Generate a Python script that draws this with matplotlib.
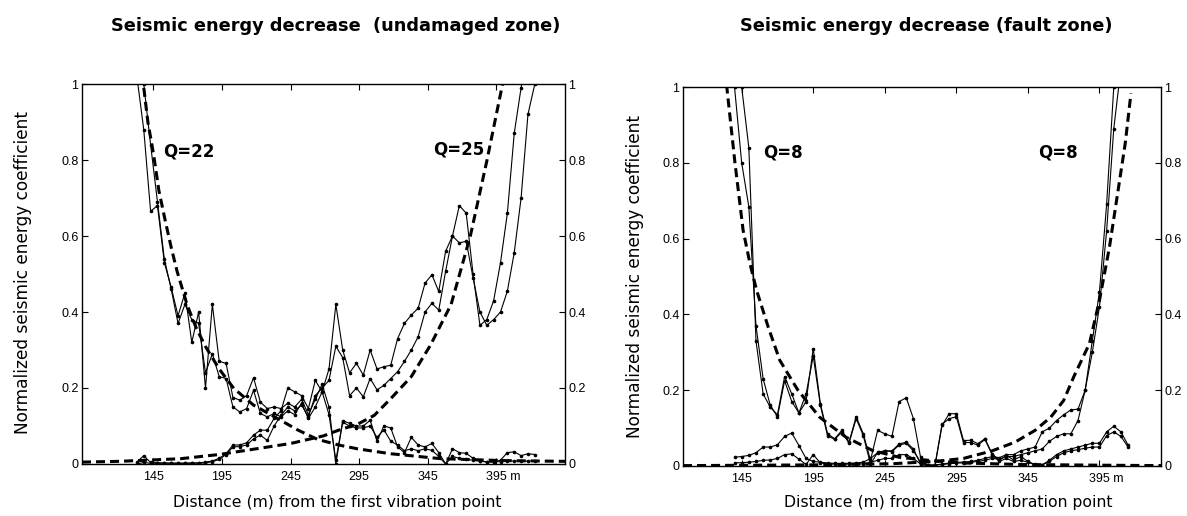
import matplotlib
matplotlib.use("Agg")
import matplotlib.pyplot as plt
from matplotlib.transforms import ScaledTranslation

plt.rcParams['lines.scale_dashes'] = False

# ------------------------------------------------------------------ data
x_left = list(range(133, 424, 5))          # 59 shot points (m)
left_dec_a = [1.02, 0.88, 0.665, 0.68, 0.53, 0.465, 0.39, 0.45, 0.32, 0.40,
              0.20, 0.42, 0.27, 0.265, 0.175, 0.168, 0.18, 0.227, 0.163, 0.146,
              0.15, 0.146, 0.16, 0.15, 0.17, 0.13, 0.17, 0.21, 0.15, 0.0,
              0.114, 0.107, 0.10, 0.10, 0.115, 0.06, 0.10, 0.095, 0.045, 0.03,
              0.07, 0.05, 0.045, 0.054, 0.03, 0.0, 0.04, 0.03, 0.028, 0.015,
              0.008, 0.005, 0.005, 0.01, 0.03, 0.032, 0.022, 0.027, 0.025]
left_dec_b = [1.3, 1.0, 0.84, 0.69, 0.54, 0.46, 0.37, 0.42, 0.38, 0.37,
              0.24, 0.29, 0.23, 0.225, 0.15, 0.137, 0.146, 0.194, 0.133, 0.124,
              0.133, 0.124, 0.14, 0.13, 0.16, 0.12, 0.15, 0.19, 0.13, 0.01,
              0.11, 0.10, 0.095, 0.095, 0.10, 0.07, 0.09, 0.06, 0.05, 0.035,
              0.04, 0.035, 0.04, 0.036, 0.02, 0.0, 0.02, 0.015, 0.012, 0.01,
              0.008, 0.006, 0.006, 0.006, 0.008, 0.008, 0.007, 0.008, 0.008]
left_inc_c = [0.005, 0.022, 0.004, 0.003, 0.003, 0.002, 0.002, 0.002, 0.003, 0.003,
              0.005, 0.008, 0.015, 0.027, 0.05, 0.05, 0.056, 0.076, 0.089, 0.089,
              0.12, 0.14, 0.20, 0.19, 0.18, 0.146, 0.22, 0.19, 0.25, 0.42,
              0.30, 0.24, 0.265, 0.234, 0.30, 0.25, 0.256, 0.26, 0.33, 0.37,
              0.392, 0.41, 0.476, 0.498, 0.454, 0.56, 0.60, 0.68, 0.66, 0.50,
              0.365, 0.38, 0.43, 0.53, 0.66, 0.87, 0.99, 1.1, 1.25]
left_inc_d = [0.0, 0.004, 0.002, 0.002, 0.002, 0.002, 0.002, 0.002, 0.002, 0.002,
              0.003, 0.006, 0.012, 0.025, 0.045, 0.046, 0.05, 0.066, 0.076, 0.062,
              0.10, 0.128, 0.15, 0.14, 0.155, 0.124, 0.18, 0.20, 0.22, 0.31,
              0.28, 0.18, 0.20, 0.177, 0.225, 0.195, 0.207, 0.225, 0.243, 0.27,
              0.30, 0.335, 0.40, 0.423, 0.405, 0.507, 0.60, 0.582, 0.586, 0.49,
              0.40, 0.365, 0.38, 0.40, 0.455, 0.556, 0.70, 0.92, 1.0]

left_fit_dec_x = [135, 137.7, 141, 145.2, 149, 153.8, 158, 162.3, 169.6, 176, 183,
                  193, 203.6, 218, 235.3, 250, 264.5, 280, 293.7, 318, 354.5, 400, 445]
left_fit_dec_y = [1.1, 1.0, 0.9, 0.814, 0.72, 0.638, 0.57, 0.507, 0.419, 0.36, 0.309,
                  0.25, 0.199, 0.155, 0.12, 0.09, 0.065, 0.05, 0.04, 0.027, 0.014, 0.009, 0.007]
left_fit_inc_x = [93, 120, 140, 165, 193, 220, 245, 269, 280, 294, 306, 318, 333,
                  347, 362, 376, 388, 399.5, 402]
left_fit_inc_y = [0.005, 0.007, 0.01, 0.014, 0.025, 0.04, 0.054, 0.074, 0.089, 0.105,
                  0.128, 0.172, 0.23, 0.313, 0.42, 0.6, 0.797, 1.0, 1.05]

x_right = list(range(140, 416, 5))         # 56 shot points (m)
right_dec_e = [1.25, 1.0, 0.84, 0.33, 0.19, 0.155, 0.135, 0.236, 0.19, 0.14,
               0.17, 0.31, 0.164, 0.085, 0.072, 0.094, 0.063, 0.13, 0.085, 0.015,
               0.094, 0.085, 0.078, 0.17, 0.18, 0.125, 0.023, 0.0, 0.0, 0.107,
               0.138, 0.138, 0.067, 0.068, 0.059, 0.072, 0.032, 0.015, 0.028, 0.016,
               0.025, 0.012, 0.004, 0.003, 0.015, 0.03, 0.04, 0.045, 0.05, 0.055,
               0.06, 0.06, 0.09, 0.105, 0.09, 0.055]
right_dec_f = [1.0, 0.80, 0.684, 0.37, 0.23, 0.16, 0.13, 0.225, 0.17, 0.14,
               0.19, 0.29, 0.16, 0.08, 0.07, 0.09, 0.06, 0.125, 0.08, 0.005,
               0.036, 0.04, 0.04, 0.058, 0.063, 0.045, 0.005, 0.0, 0.0, 0.11,
               0.125, 0.13, 0.062, 0.062, 0.055, 0.07, 0.03, 0.012, 0.02, 0.012,
               0.015, 0.01, 0.003, 0.003, 0.012, 0.025, 0.035, 0.04, 0.043, 0.047,
               0.05, 0.05, 0.08, 0.09, 0.078, 0.05]
right_inc_g = [0.023, 0.025, 0.028, 0.035, 0.05, 0.05, 0.056, 0.078, 0.087, 0.054,
               0.02, 0.012, 0.01, 0.008, 0.007, 0.007, 0.007, 0.008, 0.01, 0.02,
               0.035, 0.04, 0.038, 0.055, 0.06, 0.04, 0.01, 0.003, 0.003, 0.005,
               0.008, 0.01, 0.01, 0.012, 0.015, 0.02, 0.025, 0.022, 0.03, 0.03,
               0.04, 0.045, 0.05, 0.09, 0.10, 0.12, 0.135, 0.148, 0.15, 0.20,
               0.33, 0.46, 0.69, 1.0, 1.15, 1.3]
right_inc_h = [0.008, 0.009, 0.01, 0.012, 0.015, 0.016, 0.02, 0.03, 0.032, 0.018,
               0.004, 0.03, 0.008, 0.006, 0.005, 0.005, 0.005, 0.005, 0.006, 0.01,
               0.015, 0.02, 0.02, 0.03, 0.03, 0.02, 0.005, 0.002, 0.002, 0.004,
               0.006, 0.008, 0.008, 0.01, 0.012, 0.015, 0.02, 0.018, 0.025, 0.025,
               0.03, 0.035, 0.04, 0.045, 0.065, 0.078, 0.085, 0.085, 0.12, 0.20,
               0.30, 0.42, 0.62, 0.89, 1.05, 1.2]

right_fit_dec_x = [132, 134.6, 140.3, 146, 150.8, 155.4, 163.5, 171.6, 184.3, 199.4,
                   217.9, 236.4, 255, 278, 299, 340, 400, 440]
right_fit_dec_y = [1.08, 1.0, 0.80, 0.622, 0.534, 0.464, 0.367, 0.279, 0.2, 0.129,
                   0.076, 0.041, 0.023, 0.014, 0.008, 0.004, 0.002, 0.001]
right_fit_inc_x = [104, 150, 200, 250, 280, 300, 320, 336, 350, 361, 370, 377, 388,
                   395, 402, 407, 413, 417]
right_fit_inc_y = [0.001, 0.002, 0.003, 0.006, 0.012, 0.02, 0.04, 0.063, 0.094, 0.129,
                   0.173, 0.235, 0.323, 0.437, 0.578, 0.702, 0.851, 0.983]

x_ticks = [145, 195, 245, 295, 345, 395]
x_tick_labels = ['145', '195', '245', '295', '345', '395 m']
y_ticks = [0, 0.2, 0.4, 0.6, 0.8, 1.0]
y_tick_labels = ['0', '0.2', '0.4', '0.6', '0.8', '1']

titles = ['Seismic energy decrease  (undamaged zone)', 'Seismic energy decrease (fault zone)']
q_labels = [('Q=22', 'Q=25'), ('Q=8', 'Q=8')]
y_label = 'Normalized seismic energy coefficient'
x_label = 'Distance (m) from the first vibration point'

# ------------------------------------------------------------------ layout
W, H = 1187, 516
fig = plt.figure(figsize=(W / 100, H / 100), dpi=100)
fig.patch.set_facecolor('white')


def rect(l, r, t, b):
    return [l / W, 1 - b / H, (r - l) / W, (b - t) / H]


axL = fig.add_axes(rect(82, 565, 84, 464))
axR = fig.add_axes(rect(683, 1161, 87, 466))

TICKFONT = 'Liberation Sans'
LABFONT = 'DejaVu Sans'
TICKSIZE = 9

solid_kw = dict(color='black', lw=0.8, marker='.', ms=3.2, mec='black', mfc='black')
dash_kw = dict(color='black', lw=2.2, dashes=(6.5, 3.6), dash_capstyle='butt')


def style(ax, xlim):
    ax.set_xlim(*xlim)
    ax.set_ylim(0, 1)
    ax.set_xticks(x_ticks)
    ax.set_xticklabels(x_tick_labels, fontfamily=TICKFONT, fontsize=TICKSIZE)
    ax.set_yticks(y_ticks)
    ax.set_yticklabels(y_tick_labels, fontfamily=TICKFONT, fontsize=TICKSIZE)
    ax.tick_params(direction='in', top=True, right=True, labelright=True,
                   length=4, width=0.8, pad=2.5)
    ax.tick_params(axis='x', pad=5)
    for lab in ax.yaxis.get_ticklabels(which='both'):
        lab.set_fontfamily(TICKFONT)
    ax.yaxis.set_tick_params(labelsize=TICKSIZE)
    for s in ax.spines.values():
        s.set_linewidth(1.0)


# left panel
axL.plot(x_left, left_dec_a, **solid_kw)
axL.plot(x_left, left_dec_b, **solid_kw)
axL.plot(x_left, left_inc_c, **solid_kw)
axL.plot(x_left, left_inc_d, **solid_kw)
axL.plot(left_fit_dec_x, left_fit_dec_y, **dash_kw)
axL.plot(left_fit_inc_x, left_fit_inc_y, **dash_kw)
style(axL, (93, 445))

# right panel
axR.plot(x_right, right_dec_e, **solid_kw)
axR.plot(x_right, right_dec_f, **solid_kw)
axR.plot(x_right, right_inc_g, **solid_kw)
axR.plot(x_right, right_inc_h, **solid_kw)
axR.plot(right_fit_dec_x, right_fit_dec_y, **dash_kw)
axR.plot(right_fit_inc_x, right_fit_inc_y, **dash_kw)
style(axR, (104, 438))

# Q labels
qkw = dict(fontfamily=LABFONT, fontweight='bold', fontsize=12, va='center', ha='left')
axL.text(152, 0.823, q_labels[0][0], **qkw)
axL.text(349, 0.828, q_labels[0][1], **qkw)
axR.text(160, 0.828, q_labels[1][0], **qkw)
axR.text(352, 0.828, q_labels[1][1], **qkw)

# titles and axis labels as figure texts
tL = fig.text(336 / W, 1 - 26 / H, titles[0], ha='center', va='center',
              fontfamily=LABFONT, fontweight='bold', fontsize=12)
tR = fig.text(926 / W, 1 - 26 / H, titles[1], ha='center', va='center',
              fontfamily=LABFONT, fontweight='bold', fontsize=12)
xlL = fig.text(337 / W, 1 - 503 / H, x_label, ha='center', va='center',
               fontfamily=LABFONT, fontsize=11)
xlR = fig.text(948 / W, 1 - 503 / H, x_label, ha='center', va='center',
               fontfamily=LABFONT, fontsize=11)
ylL = fig.text(23 / W, 1 - 272 / H, y_label, ha='center', va='center', rotation=90,
               fontfamily=LABFONT, fontsize=11)
ylR = fig.text(635 / W, 1 - 276 / H, y_label, ha='center', va='center', rotation=90,
               fontfamily=LABFONT, fontsize=11)

# fit text sizes to measured widths
fig.canvas.draw()
r = fig.canvas.get_renderer()


def fit(texts, targets, vertical=False):
    scales = []
    for t, tg in zip(texts, targets):
        bb = t.get_window_extent(r)
        size = bb.height if vertical else bb.width
        scales.append(tg / size)
    s = sum(scales) / len(scales)
    for t in texts:
        t.set_fontsize(t.get_fontsize() * s)


fit([tL, tR], [450, 369])
fit([xlL, xlR], [329, 329])
fit([ylL, ylR], [326, 328], vertical=True)

# the unit label: keep the number centred on its tick, unit trailing
for ax in (axL, axR):
    last = ax.get_xticklabels()[-1]
    num = fig.text(0, 0, x_tick_labels[-1].split()[0], fontfamily=TICKFONT,
                   fontsize=TICKSIZE)
    wpx = num.get_window_extent(r).width
    num.remove()
    last.set_horizontalalignment('left')
    last.set_transform(last.get_transform() +
                       ScaledTranslation(-wpx / 2 / fig.dpi, 0, fig.dpi_scale_trans))

fig.savefig('out.png', dpi=100, facecolor='white')
